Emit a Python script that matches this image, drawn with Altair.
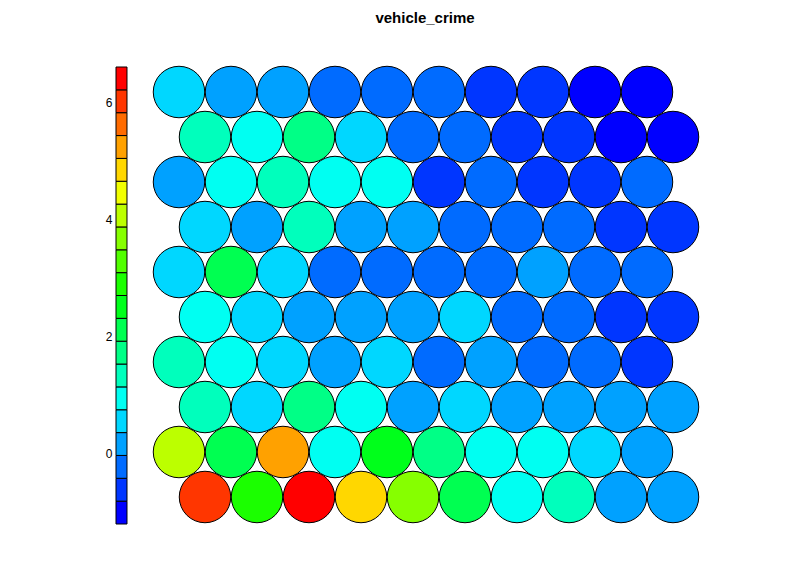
import altair as alt
import pandas as pd

TITLE = "vehicle_crime"

# Colour-bar range (min / max of the mapped variable) and number of colour steps
V_MIN = -1.217
V_MAX = 6.617
N_STEPS = 20

# rainbow palette, low (blue) -> high (red)
PALETTE = [
    "#0000FF", "#0036FF", "#006BFF", "#00A1FF", "#00D7FF",
    "#00FFF2", "#00FFBC", "#00FF86", "#00FF51", "#00FF1B",
    "#1BFF00", "#51FF00", "#86FF00", "#BCFF00", "#F2FF00",
    "#FFD700", "#FFA100", "#FF6B00", "#FF3600", "#FF0000",
]

TICKS = [0, 2, 4, 6]

# node values, top row of the map first, left to right
ROW_01 = [0.55, 0.15, 0.15, -0.24, -0.24, -0.24, -0.63, -0.63, -1.02, -1.02]
ROW_02 = [1.33, 0.94, 1.72, 0.55, -0.24, -0.24, -0.63, -0.63, -1.02, -1.02]
ROW_03 = [0.15, 0.94, 1.33, 0.94, 0.94, -0.63, -0.24, -0.63, -0.63, -0.24]
ROW_04 = [0.55, 0.15, 1.33, 0.15, 0.15, -0.24, -0.24, -0.24, -0.63, -0.63]
ROW_05 = [0.55, 2.11, 0.55, -0.24, -0.24, -0.24, -0.24, 0.15, -0.24, -0.24]
ROW_06 = [0.94, 0.55, 0.15, 0.15, 0.15, 0.55, -0.24, -0.24, -0.63, -0.63]
ROW_07 = [1.33, 0.94, 0.55, 0.15, 0.55, -0.24, 0.15, -0.24, -0.24, -0.63]
ROW_08 = [1.33, 0.55, 1.72, 0.94, 0.15, 0.55, 0.15, 0.15, 0.15, 0.15]
ROW_09 = [4.07, 2.11, 5.25, 0.94, 2.51, 1.72, 0.94, 0.94, 0.55, 0.15]
ROW_10 = [6.03, 2.90, 6.42, 4.86, 3.68, 2.11, 0.94, 1.33, 0.15, 0.15]

ROWS_TOP_DOWN = [ROW_01, ROW_02, ROW_03, ROW_04, ROW_05,
                 ROW_06, ROW_07, ROW_08, ROW_09, ROW_10]

# ---- build tables -------------------------------------------------------
n_rows = len(ROWS_TOP_DOWN)
recs = []
for k, row in enumerate(ROWS_TOP_DOWN):
    r = n_rows - 1 - k              # row index counted from the bottom
    shift = 0.5 if r % 2 == 0 else 0.0   # hexagonal offset
    for c, v in enumerate(row):
        recs.append({"x": c + shift, "y": r, "v": v})
nodes = pd.DataFrame(recs)

step = (V_MAX - V_MIN) / N_STEPS
bar = pd.DataFrame({
    "lo": [V_MIN + i * step for i in range(N_STEPS)],
    "hi": [V_MIN + (i + 1) * step for i in range(N_STEPS)],
})
bar["v"] = (bar["lo"] + bar["hi"]) / 2

# ---- scales -------------------------------------------------------------
X_DOM = [-1.2115, 10.673]
Y_DOM = [-0.6, 9.556]
color_scale = alt.Scale(type="quantize", domain=[V_MIN, V_MAX],
                        range=PALETTE, nice=False, zero=False)

xs = alt.Scale(domain=X_DOM, nice=False, zero=False)

colorbar = alt.Chart(bar).mark_rect(stroke="black", strokeWidth=1).encode(
    x=alt.datum(X_DOM[0], scale=xs, axis=None),
    x2=alt.datum(-1.0),
    y=alt.Y("lo:Q", scale=alt.Scale(domain=[V_MIN, V_MAX], nice=False, zero=False),
            axis=alt.Axis(values=TICKS, orient="left", domain=False, ticks=False,
                          grid=False, title=None, labelPadding=4,
                          labelFont="Liberation Sans", labelFontSize=12,
                          labelColor="black", format="d")),
    y2="hi:Q",
    color=alt.Color("v:Q", scale=color_scale, legend=None),
)

hexmap = alt.Chart(nodes).mark_point(
    shape="circle", filled=True, size=2650, stroke="black", strokeWidth=1,
    opacity=1,
).encode(
    x=alt.X("x:Q", scale=xs, axis=None),
    y=alt.Y("y:Q", scale=alt.Scale(domain=Y_DOM, nice=False, zero=False), axis=None),
    color=alt.Color("v:Q", scale=color_scale, legend=None),
)

chart = alt.layer(colorbar, hexmap).resolve_scale(y="independent").properties(
    width=618, height=457,
    title=alt.TitleParams(TITLE, font="Liberation Sans", fontSize=15,
                          fontWeight="bold", color="black", offset=38),
    autosize=alt.AutoSizeParams(type="none"),
    padding={"left": 108, "top": 59, "right": 40, "bottom": 20},
).configure_view(stroke=None)

chart.save("out.html", embed_options={"renderer": "svg", "actions": False})
